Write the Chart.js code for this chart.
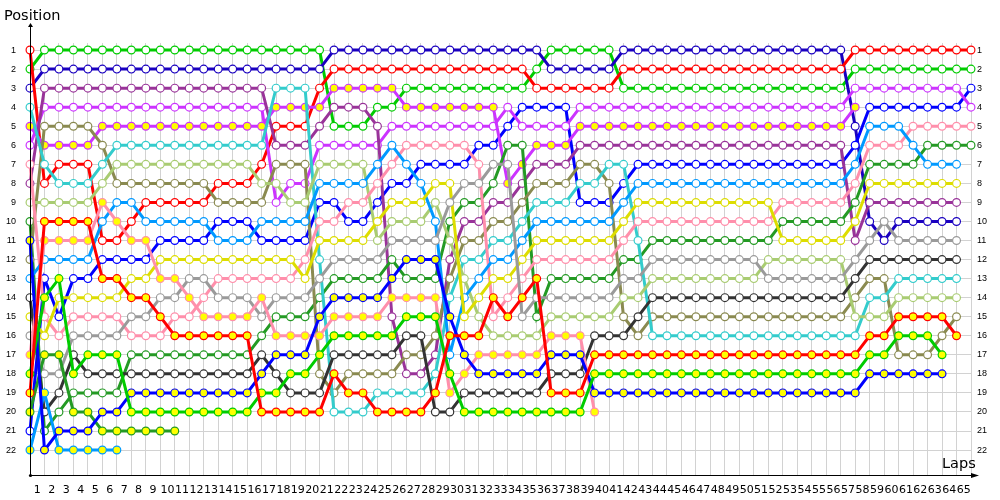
<!DOCTYPE html>
<html>
<head>
<meta charset="utf-8">
<script src="https://cdn.jsdelivr.net/npm/chart.js@4.4.0/dist/chart.umd.min.js"></script>
<style>
  html, body { margin: 0; padding: 0; background: #fff; }
  #lapChart { display: block; }
</style>
</head>
<body>
<canvas id="lapChart" width="1000" height="500"></canvas>
<script>
// laps 0 (grid) .. 65
const laps = [0, 1, 2, 3, 4, 5, 6, 7, 8, 9, 10, 11, 12, 13, 14, 15, 16, 17, 18, 19, 20,
  21, 22, 23, 24, 25, 26, 27, 28, 29, 30, 31, 32, 33, 34, 35, 36, 37, 38, 39, 40,
  41, 42, 43, 44, 45, 46, 47, 48, 49, 50, 51, 52, 53, 54, 55, 56, 57, 58, 59, 60,
  61, 62, 63, 64, 65];
const positions = [1, 2, 3, 4, 5, 6, 7, 8, 9, 10, 11, 12, 13, 14, 15, 16, 17, 18, 19, 20, 21, 22];

// position of every car on every lap (null = not running)
const redWhite = [1, 8, 7, 7, 7, 11, 11, 10, 9, 9, 9, 9, 9, 8, 8, 8, 7, 5, 5, 5, 3,
  2, 2, 2, 2, 2, 2, 2, 2, 2, 2, 2, 2, 2, 2, 3, 3, 3, 3, 3, 3,
  2, 2, 2, 2, 2, 2, 2, 2, 2, 2, 2, 2, 2, 2, 2, 2, 1, 1, 1, 1, 1, 1, 1, 1, 1];
const greenWhite = [2, 1, 1, 1, 1, 1, 1, 1, 1, 1, 1, 1, 1, 1, 1, 1, 1, 1, 1, 1, 1,
  5, 5, 5, 4, 4, 3, 3, 3, 3, 3, 3, 3, 3, 3, 2, 1, 1, 1, 1, 1,
  3, 3, 3, 3, 3, 3, 3, 3, 3, 3, 3, 3, 3, 3, 3, 3, 2, 2, 2, 2, 2, 2, 2, 2, 2];
const navyWhite = [3, 2, 2, 2, 2, 2, 2, 2, 2, 2, 2, 2, 2, 2, 2, 2, 2, 2, 2, 2, 2,
  1, 1, 1, 1, 1, 1, 1, 1, 1, 1, 1, 1, 1, 1, 1, 2, 2, 2, 2, 2,
  1, 1, 1, 1, 1, 1, 1, 1, 1, 1, 1, 1, 1, 1, 1, 1, 5, 10, 11, 10, 10, 10, 10, 10, null];
const blueWhite = [21, 13, 15, 13, 13, 12, 12, 12, 12, 11, 11, 11, 11, 10, 10, 10, 11, 11, 11, 11, 9,
  9, 10, 10, 9, 8, 8, 7, 7, 7, 7, 6, 6, 5, 4, 4, 4, 4, 9, 9, 9,
  8, 7, 7, 7, 7, 7, 7, 7, 7, 7, 7, 7, 7, 7, 7, 7, 6, 4, 4, 4, 4, 4, 4, 4, 3];
const purpleWhite = [8, 3, 3, 3, 3, 3, 3, 3, 3, 3, 3, 3, 3, 3, 3, 3, 3, 6, 6, 6, 5,
  4, 4, 4, 5, 15, 18, 18, 17, 12, 10, 10, 9, 9, 8, 7, 7, 7, 6, 6, 6,
  6, 6, 6, 6, 6, 6, 6, 6, 6, 6, 6, 6, 6, 6, 6, 6, 11, 9, 9, 9, 9, 9, 9, 9, null];
const magentaWhite = [6, 4, 4, 4, 4, 4, 4, 4, 4, 4, 4, 4, 4, 4, 4, 4, 4, 9, 8, 8, 6,
  6, 6, 6, 6, 5, 5, 5, 5, 5, 5, 5, 5, 4, 5, 5, 5, 5, 4, 4, 4,
  4, 4, 4, 4, 4, 4, 4, 4, 4, 4, 4, 4, 4, 4, 4, 4, 3, 3, 3, 3, 3, 3, 3, 3, 4];
const magentaYellow = [5, 6, 6, 6, 6, 5, 5, 5, 5, 5, 5, 5, 5, 5, 5, 5, 5, 4, 4, 4, 4,
  3, 3, 3, 3, 3, 4, 4, 4, 4, 4, 4, 4, 8, 7, 6, 6, 6, 5, 5, 5,
  5, 5, 5, 5, 5, 5, 5, 5, 5, 5, 5, 5, 5, 5, 5, 5, 4, null, null, null, null, null, null, null, null];
const oliveWhite = [12, 5, 5, 5, 5, 6, 8, 8, 8, 8, 8, 8, 8, 9, 9, 9, 9, 7, 7, 7, 18,
  19, 18, 18, 18, 18, 17, 17, 16, 13, 11, 11, 10, 10, 9, 8, 8, 8, 7, 7, 8,
  15, 16, 15, 15, 15, 15, 15, 15, 15, 15, 15, 15, 15, 15, 15, 15, 14, 13, 13, 17, 17, 17, 16, 15, null];
const cyanWhite = [4, 7, 8, 8, 8, 7, 6, 6, 6, 6, 6, 6, 6, 6, 6, 6, 6, 3, 3, 3, 12,
  20, 20, 20, 19, 19, 19, 19, 18, 14, 12, 12, 11, 11, 10, 9, 9, 9, 8, 8, 7,
  7, 11, 16, 16, 16, 16, 16, 16, 16, 16, 16, 16, 16, 16, 16, 16, 16, 14, 14, 13, 13, 13, 13, 13, null];
const limeWhite = [9, 9, 9, 9, 9, 8, 7, 7, 7, 7, 7, 7, 7, 7, 7, 7, 8, 8, 9, 9, 7,
  7, 7, 7, 11, 10, 10, 10, 9, 11, 13, 15, 16, 16, 16, 16, 15, 15, 15, 15, 15,
  14, 14, 13, 13, 13, 13, 13, 13, 13, 13, 12, 12, 12, 12, 12, 12, 15, 15, 15, 14, 14, 14, 14, 14, null];
const pinkWhite = [7, 15, 16, 15, 15, 15, 15, 16, 16, 16, 15, 15, 14, 13, 13, 13, 13, 13, 13, 12, 10,
  10, 9, 9, 8, 7, 6, 6, 6, 6, 6, 7, 15, 14, 13, 12, 12, 12, 12, 12, 12,
  11, 10, 10, 10, 10, 10, 10, 10, 10, 10, 10, 9, 9, 9, 9, 9, 8, 6, 6, 6, 5, 5, 5, 5, 5];
const pinkYellow = [17, 11, 11, 11, 11, 9, 10, 11, 11, 13, 13, 14, 15, 15, 15, 15, 14, 16, 16, 16, 16,
  15, 15, 15, 15, 14, 14, 14, 14, 19, 18, 17, 17, 17, 17, 17, 16, 16, 16, 20, null,
  null, null, null, null, null, null, null, null, null, null, null, null, null, null, null, null, null, null, null, null, null, null, null, null, null];
const skyWhite = [13, 12, 12, 12, 12, 10, 9, 9, 10, 10, 10, 10, 10, 11, 11, 11, 10, 10, 10, 10, 8,
  8, 8, 8, 7, 6, 7, 8, 10, 17, 14, 13, 12, 12, 11, 10, 10, 10, 10, 10, 10,
  9, 8, 8, 8, 8, 8, 8, 8, 8, 8, 8, 8, 8, 8, 8, 8, 7, 5, 5, 5, 6, 7, 7, 7, null];
const skyYellow = [22, 19, 22, 22, 22, 22, 22, null, null, null, null, null, null, null, null, null, null, null, null, null, null,
  null, null, null, null, null, null, null, null, null, null, null, null, null, null, null, null, null, null, null, null,
  null, null, null, null, null, null, null, null, null, null, null, null, null, null, null, null, null, null, null, null, null, null, null, null, null];
const yellowWhite = [15, 16, 14, 14, 14, 14, 14, 13, 13, 12, 12, 12, 12, 12, 12, 12, 12, 12, 12, 13, 11,
  11, 11, 11, 10, 9, 9, 9, 8, 8, 15, 14, 13, 13, 12, 11, 11, 11, 11, 11, 11,
  10, 9, 9, 9, 9, 9, 9, 9, 9, 9, 9, 11, 11, 11, 11, 11, 10, 8, 8, 8, 8, 8, 8, 8, null];
const grayWhite = [16, 18, 18, 16, 16, 16, 16, 15, 15, 14, 14, 13, 13, 14, 14, 14, 15, 14, 14, 14, 13,
  12, 12, 12, 12, 11, 11, 11, 11, 9, 8, 8, 7, 7, 15, 14, 14, 14, 14, 14, 14,
  13, 13, 12, 12, 12, 12, 12, 12, 12, 12, 13, 13, 13, 13, 13, 13, 12, 11, 10, 11, 11, 11, 11, 11, null];
const darkGrayWhite = [14, 20, 19, 17, 18, 18, 18, 18, 18, 18, 18, 18, 18, 18, 18, 18, 17, 18, 19, 19, 19,
  17, 17, 17, 17, 17, 16, 16, 20, 20, 19, 19, 19, 19, 19, 19, 18, 18, 18, 16, 16,
  16, 15, 14, 14, 14, 14, 14, 14, 14, 14, 14, 14, 14, 14, 14, 14, 13, 12, 12, 12, 12, 12, 12, 12, null];
const darkGreenWhite = [10, 21, 20, 19, 19, 19, 19, 17, 17, 17, 17, 17, 17, 17, 17, 17, 16, 15, 15, 15, 14,
  13, 13, 13, 13, 12, 13, 13, 13, 10, 9, 9, 8, 6, 6, 15, 13, 13, 13, 13, 13,
  12, 12, 11, 11, 11, 11, 11, 11, 11, 11, 11, 10, 10, 10, 10, 10, 9, 7, 7, 7, 7, 6, 6, 6, 6];
const darkGreenYellow = [20, 17, 17, 20, 20, 21, 21, 21, 21, 21, 21, null, null, null, null, null, null, null, null, null, null,
  null, null, null, null, null, null, null, null, null, null, null, null, null, null, null, null, null, null, null, null,
  null, null, null, null, null, null, null, null, null, null, null, null, null, null, null, null, null, null, null, null, null, null, null, null, null];
const greenYellow = [18, 14, 13, 18, 17, 17, 17, 20, 20, 20, 20, 20, 20, 20, 20, 20, 19, 19, 18, 18, 17,
  16, 16, 16, 16, 16, 15, 15, 15, 18, 20, 20, 20, 20, 20, 20, 20, 20, 20, 18, 18,
  18, 18, 18, 18, 18, 18, 18, 18, 18, 18, 18, 18, 18, 18, 18, 18, 18, 17, 17, 16, 16, 16, 17, null, null];
const redYellow = [19, 10, 10, 10, 10, 13, 13, 14, 14, 15, 16, 16, 16, 16, 16, 16, 20, 20, 20, 20, 20,
  18, 19, 19, 20, 20, 20, 20, 19, 16, 16, 16, 14, 15, 14, 13, 19, 19, 19, 17, 17,
  17, 17, 17, 17, 17, 17, 17, 17, 17, 17, 17, 17, 17, 17, 17, 17, 17, 16, 16, 15, 15, 15, 15, 16, null];
const blueYellow = [11, 22, 21, 21, 21, 20, 20, 19, 19, 19, 19, 19, 19, 19, 19, 19, 18, 17, 17, 17, 15,
  14, 14, 14, 14, 13, 12, 12, 12, 15, 17, 18, 18, 18, 18, 18, 17, 17, 17, 19, 19,
  19, 19, 19, 19, 19, 19, 19, 19, 19, 19, 19, 19, 19, 19, 19, 19, 19, 18, 18, 18, 18, 18, 18, null, null];

const series = [
  { data: redYellow, color: '#ff0000', fill: '#ffff00' },
  { data: greenYellow, color: '#00cc00', fill: '#ffff00' },
  { data: blueYellow, color: '#0000ff', fill: '#ffff00' },
  { data: darkGreenYellow, color: '#249a24', fill: '#ffff00' },
  { data: skyYellow, color: '#0099ff', fill: '#ffff00' },
  { data: pinkYellow, color: '#ff8fab', fill: '#ffff00' },
  { data: darkGrayWhite, color: '#333333', fill: '#ffffff' },
  { data: grayWhite, color: '#9a9a9a', fill: '#ffffff' },
  { data: yellowWhite, color: '#dddd00', fill: '#ffffff' },
  { data: skyWhite, color: '#0099ff', fill: '#ffffff' },
  { data: pinkWhite, color: '#ff8fab', fill: '#ffffff' },
  { data: limeWhite, color: '#a9cc72', fill: '#ffffff' },
  { data: cyanWhite, color: '#33cccc', fill: '#ffffff' },
  { data: oliveWhite, color: '#8a8a50', fill: '#ffffff' },
  { data: darkGreenWhite, color: '#249a24', fill: '#ffffff' },
  { data: purpleWhite, color: '#993399', fill: '#ffffff' },
  { data: magentaYellow, color: '#cc33ff', fill: '#ffff00' },
  { data: magentaWhite, color: '#cc33ff', fill: '#ffffff' },
  { data: blueWhite, color: '#0000ff', fill: '#ffffff' },
  { data: redWhite, color: '#ff0000', fill: '#ffffff' },
  { data: navyWhite, color: '#1a00c0', fill: '#ffffff' },
  { data: greenWhite, color: '#00cc00', fill: '#ffffff' },
];

const datasets = series.map((s) => ({
  data: s.data,
  borderColor: s.color,
  borderWidth: 3,
  pointRadius: 3.9,
  pointBorderWidth: 1.2,
  pointBorderColor: s.color,
  pointBackgroundColor: s.fill,
  spanGaps: false,
  tension: 0,
}));

// axis lines with arrows and the two axis titles
const axisDecor = {
  id: 'axisDecor',
  afterDraw(chart) {
    const ctx = chart.ctx;
    const x0 = chart.scales.x.left;
    const y0 = chart.scales.y.bottom;
    ctx.save();
    ctx.strokeStyle = '#000';
    ctx.fillStyle = '#000';
    ctx.lineWidth = 1;
    ctx.beginPath();
    ctx.moveTo(x0 + 0.5, y0 + 0.5);
    ctx.lineTo(x0 + 0.5, 25);
    ctx.moveTo(x0, y0 + 0.5);
    ctx.lineTo(977, y0 + 0.5);
    ctx.stroke();
    // arrow heads
    ctx.beginPath();
    ctx.moveTo(x0 + 0.5, 23);
    ctx.lineTo(x0 - 2, 27);
    ctx.lineTo(x0 + 3, 27);
    ctx.closePath();
    ctx.fill();
    ctx.beginPath();
    ctx.moveTo(979, y0 + 0.5);
    ctx.lineTo(971, y0 - 2);
    ctx.lineTo(971, y0 + 3);
    ctx.closePath();
    ctx.fill();
    ctx.beginPath();
    ctx.arc(x0 + 0.5, y0 + 0.5, 1.6, 0, Math.PI * 2);
    ctx.fill();
    ctx.font = '14.5px "DejaVu Sans"';
    ctx.textBaseline = 'middle';
    ctx.textAlign = 'left';
    ctx.fillText('Position', 4, 16);
    ctx.fillText('Laps', 942, 464);
    ctx.restore();
  },
};

const yTicks = {
  color: '#000',
  font: { family: 'Liberation Sans', size: 9 },
  callback: (v) => String(v),
};

new Chart(document.getElementById('lapChart'), {
  type: 'line',
  data: { labels: laps, datasets },
  options: {
    responsive: false,
    animation: false,
    devicePixelRatio: 1,
    layout: { padding: { top: 43, left: 0, right: 0, bottom: 0 } },
    plugins: { legend: { display: false }, tooltip: { enabled: false } },
    scales: {
      x: {
        type: 'category',
        offset: false,
        grid: { color: '#d2d2d2', drawTicks: false },
        border: { display: false },
        ticks: {
          autoSkip: false,
          maxRotation: 0,
          padding: 9,
          labelOffset: -7.2,
          color: '#000',
          font: { family: 'DejaVu Sans', size: 11 },
          callback: (v, i) => (i === 0 ? '' : String(laps[i])),
        },
        afterFit: (s) => { s.height = 25; },
      },
      y: {
        type: 'linear',
        position: 'left',
        reverse: true,
        min: 0.63,
        max: 23.31,
        afterBuildTicks: (s) => { s.ticks = positions.map((p) => ({ value: p })); },
        grid: { color: '#d2d2d2', drawTicks: false },
        border: { display: false },
        ticks: Object.assign({ padding: 14 }, yTicks),
        afterFit: (s) => { s.width = 30; },
      },
      y2: {
        type: 'linear',
        position: 'right',
        reverse: true,
        min: 0.63,
        max: 23.31,
        afterBuildTicks: (s) => { s.ticks = positions.map((p) => ({ value: p })); },
        grid: { display: false, drawTicks: false },
        border: { display: false },
        ticks: Object.assign({ padding: 6 }, yTicks),
        afterFit: (s) => { s.width = 29; },
      },
    },
  },
  plugins: [axisDecor],
});
</script>
</body>
</html>
